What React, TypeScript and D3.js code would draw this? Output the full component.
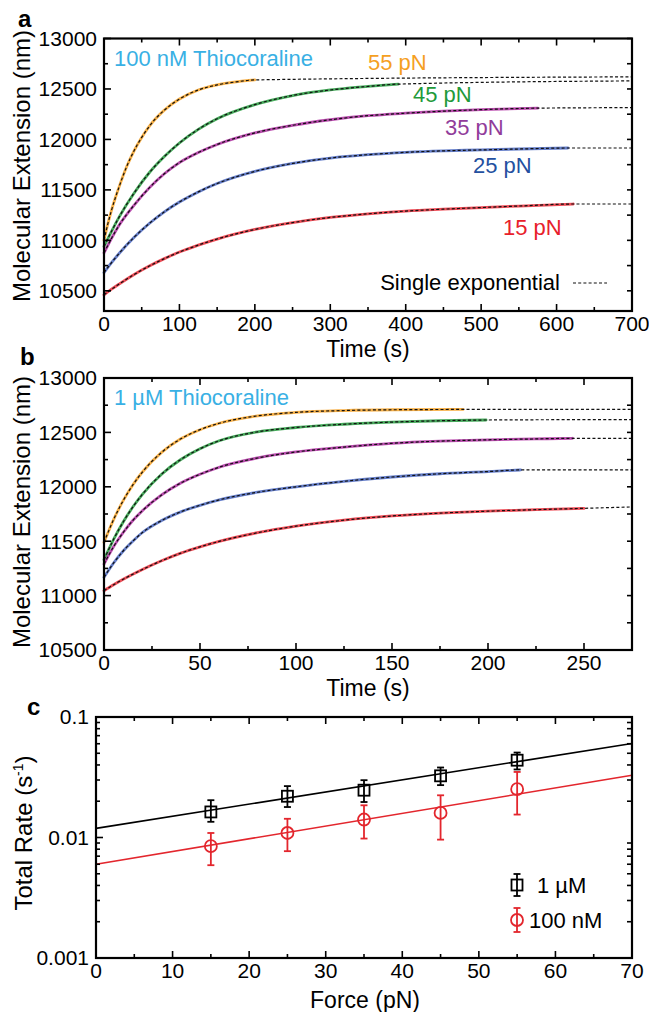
import * as d3 from "d3";

const FONT = "'Liberation Sans', Arial, Helvetica, sans-serif";

// ---- panel a : 100 nM Thiocoraline ----
const forceLabels = ["55 pN", "45 pN", "35 pN", "25 pN", "15 pN"];
const traceColors = ["#f6a733", "#33a24a", "#b43aa6", "#5571c4", "#ec3a45"];
const labelColors = ["#f5a01f", "#1f9a3a", "#913c9a", "#2450a0", "#e8202a"];

const timeA55 = [0, 5, 10, 15, 20, 30, 40, 50, 60, 80, 100, 125, 150, 175, 200];
const extA55 = [11000, 11160, 11300, 11420, 11530, 11730, 11890, 12020, 12130, 12290, 12400, 12490, 12540, 12570, 12590];
const timeA45 = [0, 10, 20, 40, 60, 80, 100, 125, 150, 200, 250, 300, 350, 390];
const extA45 = [10940, 11090, 11230, 11470, 11670, 11830, 11965, 12100, 12205, 12345, 12435, 12490, 12525, 12548];
const timeA35 = [0, 10, 20, 40, 60, 80, 100, 125, 150, 200, 250, 300, 350, 400, 450, 500, 575];
const extA35 = [10875, 11020, 11150, 11350, 11520, 11660, 11770, 11870, 11950, 12065, 12140, 12195, 12235, 12260, 12280, 12295, 12310];
const timeA25 = [0, 10, 20, 40, 60, 80, 100, 125, 150, 200, 250, 300, 350, 400, 450, 500, 550, 615];
const extA25 = [10680, 10779, 10870, 11031, 11167, 11283, 11380, 11480, 11563, 11683, 11762, 11815, 11849, 11872, 11887, 11896, 11905, 11915];
const timeA15 = [0, 10, 20, 40, 60, 80, 100, 125, 150, 200, 250, 300, 350, 400, 450, 500, 550, 622];
const extA15 = [10460, 10516, 10567, 10662, 10745, 10819, 10884, 10953, 11013, 11108, 11176, 11227, 11263, 11290, 11309, 11325, 11340, 11360];
const plateauA = [12620, 12580, 12315, 11915, 11360];

// ---- panel b : 1 µM Thiocoraline ----
const timeB55 = [0, 5, 10, 15, 20, 30, 40, 50, 60, 80, 100, 125, 150, 187];
const extB55 = [11490, 11699, 11873, 12017, 12136, 12316, 12441, 12525, 12584, 12652, 12684, 12701, 12708, 12711];
const timeB45 = [0, 5, 10, 15, 20, 30, 40, 50, 60, 80, 100, 125, 150, 175, 199];
const extB45 = [11330, 11517, 11677, 11814, 11931, 12116, 12251, 12350, 12423, 12505, 12545, 12575, 12595, 12607, 12614];
const timeB35 = [0, 5, 10, 15, 20, 30, 40, 50, 60, 80, 100, 125, 150, 175, 200, 225, 244];
const extB35 = [11290, 11450, 11580, 11690, 11780, 11925, 12035, 12115, 12180, 12265, 12320, 12365, 12400, 12420, 12432, 12440, 12446];
const timeB25 = [0, 5, 10, 15, 20, 30, 40, 50, 60, 80, 100, 125, 150, 175, 200, 217];
const extB25 = [11168, 11300, 11410, 11500, 11580, 11690, 11770, 11830, 11880, 11950, 12000, 12050, 12090, 12120, 12140, 12155];
const timeB15 = [0, 5, 10, 20, 30, 40, 50, 60, 80, 100, 125, 150, 175, 200, 225, 250];
const extB15 = [11045, 11100, 11150, 11240, 11320, 11390, 11448, 11498, 11578, 11638, 11693, 11732, 11758, 11776, 11790, 11802];
const plateauB = [12712, 12618, 12446, 12155, 11815];

// ---- panel c : total rate vs force ----
const forces = [15, 25, 35, 45, 55];
const rate1uM = [0.0163, 0.022, 0.0247, 0.0325, 0.0438];
const hi1uM = [0.0204, 0.0267, 0.0299, 0.0381, 0.0507];
const lo1uM = [0.0135, 0.0179, 0.0197, 0.0272, 0.0367];
const rate100nM = [0.00847, 0.0109, 0.0141, 0.016, 0.0252];
const hi100nM = [0.0109, 0.0143, 0.0185, 0.0224, 0.035];
const lo100nM = [0.00589, 0.0077, 0.0098, 0.0096, 0.0155];
const fitForce = [0, 70];
const fit1uM = [0.0119, 0.0603];
const fit100nM = [0.006, 0.0329];

// label layout (pixels)
const forceLabelPos = [[368, 70], [413, 102], [445, 135], [473, 173], [503, 235]];

const zip = (t: number[], v: number[]) => t.map((d, i) => [d, v[i]] as [number, number]);

function Frame({ x, y, xMajor, xMinor, yMajor, yMinor, yRight, xFmt, yFmt, yLabelX, xLabelDy }: any) {
  const [x0, x1] = x.range();
  const [yb, yt] = y.range();
  const M = 7, m = 4;
  return (
    <g stroke="#000" strokeWidth={1.6}>
      {xMinor.map((v: number) => (
        <g key={"xm" + v}>
          <line x1={x(v)} x2={x(v)} y1={yb} y2={yb - m} />
          <line x1={x(v)} x2={x(v)} y1={yt} y2={yt + m} />
        </g>
      ))}
      {xMajor.map((v: number) => (
        <g key={"xM" + v}>
          <line x1={x(v)} x2={x(v)} y1={yb} y2={yb - M} />
          <line x1={x(v)} x2={x(v)} y1={yt} y2={yt + M} />
          <text x={x(v)} y={yb + xLabelDy} dy="0.35em" textAnchor="middle" stroke="none" fontSize={21}>{xFmt(v)}</text>
        </g>
      ))}
      {yMinor.map((v: number) => (
        <line key={"ym" + v} x1={x0} x2={x0 + m} y1={y(v)} y2={y(v)} />
      ))}
      {yMajor.map((v: number) => (
        <g key={"yM" + v}>
          <line x1={x0} x2={x0 + M} y1={y(v)} y2={y(v)} />
          <text x={yLabelX} y={y(v)} dy="0.35em" textAnchor="end" stroke="none" fontSize={21}>{yFmt(v)}</text>
        </g>
      ))}
      {yRight.map((v: number) => (
        <line key={"yr" + v} x1={x1} x2={x1 - 5} y1={y(v)} y2={y(v)} />
      ))}
      <rect x={x0} y={yt} width={x1 - x0} height={yb - yt} fill="none" strokeWidth={2.2} />
    </g>
  );
}

function ExtensionPanel({ top, bottom, xMax, yMin, series, plateaus, xStep, title, titleY }: any) {
  const x = d3.scaleLinear().domain([0, xMax]).range([104, 632]);
  const y = d3.scaleLinear().domain([yMin, 13000]).range([bottom, top]);
  const line = d3.line<[number, number]>().x(d => x(d[0])).y(d => y(d[1])).curve(d3.curveMonotoneX);
  const xMajor = d3.range(0, xMax + 1, xStep);
  const xMinor = d3.range(xStep / 2, xMax + 1, xStep);
  const yMajor = d3.range(Math.ceil(yMin / 500) * 500, 13001, 500);
  const yMinor = d3.range(Math.ceil(yMin / 250) * 250, 13001, 250).filter(v => v % 500 !== 0);
  const yRight = d3.range(Math.ceil(yMin / 250) * 250, 13001, 250);
  return (
    <g>
      {series.map((s: [number, number][], i: number) => (
        <path key={"d" + i} d={line(s) || ""} fill="none" stroke={traceColors[i]} strokeWidth={2.8} strokeLinecap="round" opacity={0.9} />
      ))}
      {series.map((s: [number, number][], i: number) => (
        <path key={"f" + i} d={line([...s, [xMax, plateaus[i]]]) || ""} fill="none" stroke="#111" strokeWidth={1.2} strokeDasharray="3 2.2" />
      ))}
      <Frame x={x} y={y} xMajor={xMajor} xMinor={xMinor} yMajor={yMajor} yMinor={yMinor} yRight={yRight}
        xFmt={(v: number) => String(v)} yFmt={(v: number) => String(v)} yLabelX={97} xLabelDy={13} />
      <text x={114} y={titleY} fill="#39b0e4" fontSize={22}>{title}</text>
    </g>
  );
}

function RatePanel() {
  const x = d3.scaleLinear().domain([0, 70]).range([96, 632]);
  const y = d3.scaleLog().domain([0.001, 0.1]).range([958, 717]);
  const minors: number[] = [];
  [0.001, 0.01].forEach(d => d3.range(2, 10).forEach(k => minors.push(d * k)));
  const fitLine = d3.line<[number, number]>().x(d => x(d[0])).y(d => y(d[1]));
  const red = "#e3262d";
  const cap = 3.5;
  return (
    <g>
      <path d={fitLine(zip(fitForce, fit1uM)) || ""} stroke="#000" strokeWidth={1.6} fill="none" />
      <path d={fitLine(zip(fitForce, fit100nM)) || ""} stroke={red} strokeWidth={1.6} fill="none" />
      {forces.map((f, i) => (
        <g key={"k" + f} stroke="#000" strokeWidth={1.8} fill="none">
          <line x1={x(f)} x2={x(f)} y1={y(hi1uM[i])} y2={y(lo1uM[i])} />
          <line x1={x(f) - cap} x2={x(f) + cap} y1={y(hi1uM[i])} y2={y(hi1uM[i])} />
          <line x1={x(f) - cap} x2={x(f) + cap} y1={y(lo1uM[i])} y2={y(lo1uM[i])} />
          <rect x={x(f) - 5.5} y={y(rate1uM[i]) - 5.5} width={11} height={11} />
        </g>
      ))}
      {forces.map((f, i) => (
        <g key={"r" + f} stroke={red} strokeWidth={1.8} fill="none">
          <line x1={x(f)} x2={x(f)} y1={y(hi100nM[i])} y2={y(lo100nM[i])} />
          <line x1={x(f) - cap} x2={x(f) + cap} y1={y(hi100nM[i])} y2={y(hi100nM[i])} />
          <line x1={x(f) - cap} x2={x(f) + cap} y1={y(lo100nM[i])} y2={y(lo100nM[i])} />
          <circle cx={x(f)} cy={y(rate100nM[i])} r={6} />
        </g>
      ))}
      <Frame x={x} y={y} xMajor={d3.range(0, 71, 10)} xMinor={d3.range(5, 70, 10)}
        yMajor={[0.001, 0.01, 0.1]} yMinor={minors} yRight={minors}
        xFmt={(v: number) => String(v)} yFmt={(v: number) => String(v)} yLabelX={89} xLabelDy={13} />
      {/* legend */}
      <g stroke="#000" strokeWidth={1.8} fill="none">
        <line x1={517} x2={517} y1={874} y2={896} />
        <line x1={517 - cap} x2={517 + cap} y1={874} y2={874} />
        <line x1={517 - cap} x2={517 + cap} y1={896} y2={896} />
        <rect x={511.5} y={879.5} width={11} height={11} />
      </g>
      <text x={537} y={885} dy="0.35em" fontSize={22}>1 µM</text>
      <g stroke={red} strokeWidth={1.8} fill="none">
        <line x1={517} x2={517} y1={908} y2={932} />
        <line x1={517 - cap} x2={517 + cap} y1={908} y2={908} />
        <line x1={517 - cap} x2={517 + cap} y1={932} y2={932} />
        <circle cx={517} cy={920} r={6} />
      </g>
      <text x={529} y={920} dy="0.35em" fontSize={22}>100 nM</text>
      <text x={365} y={1000} dy="0.35em" textAnchor="middle" fontSize={23}>Force (pN)</text>
      <text transform="translate(24,833) rotate(-90)" textAnchor="middle" dy="0.35em" fontSize={24}>
        Total Rate (s<tspan fontSize={14} dy="-9">-1</tspan><tspan dy="9">)</tspan>
      </text>
    </g>
  );
}

export default function App() {
  const seriesA = [zip(timeA55, extA55), zip(timeA45, extA45), zip(timeA35, extA35), zip(timeA25, extA25), zip(timeA15, extA15)];
  const seriesB = [zip(timeB55, extB55), zip(timeB45, extB45), zip(timeB35, extB35), zip(timeB25, extB25), zip(timeB15, extB15)];
  return (
    <svg width={649} height={1012} style={{ position: "absolute", left: 0, top: 0, background: "#fff" }}
      fontFamily={FONT}>
      <rect width={649} height={1012} fill="#fff" />
      {/* panel a */}
      <text x={18} y={27} fontSize={24} fontWeight="bold">a</text>
      <ExtensionPanel top={38.5} bottom={311} xMax={700} yMin={10300} series={seriesA} plateaus={plateauA}
        xStep={100} title="100 nM Thiocoraline" titleY={65.5} />
      {forceLabels.map((l, i) => (
        <text key={l} x={forceLabelPos[i][0]} y={forceLabelPos[i][1]} fill={labelColors[i]} fontSize={22}>{l}</text>
      ))}
      <text x={560} y={290} textAnchor="end" fontSize={22}>Single exponential</text>
      <line x1={573} x2={607} y1={283} y2={283} stroke="#111" strokeWidth={1.2} strokeDasharray="3 2.2" />
      <text x={368} y={349} dy="0.35em" textAnchor="middle" fontSize={23}>Time (s)</text>
      <text transform="translate(22,166) rotate(-90)" textAnchor="middle" dy="0.35em" fontSize={24}>Molecular Extension (nm)</text>

      {/* panel b */}
      <text x={20} y={365} fontSize={24} fontWeight="bold">b</text>
      <ExtensionPanel top={378} bottom={650} xMax={275} yMin={10500} series={seriesB} plateaus={plateauB}
        xStep={50} title="1 µM Thiocoraline" titleY={405} />
      <text x={368} y={688} dy="0.35em" textAnchor="middle" fontSize={23}>Time (s)</text>
      <text transform="translate(22,512) rotate(-90)" textAnchor="middle" dy="0.35em" fontSize={24}>Molecular Extension (nm)</text>

      {/* panel c */}
      <text x={27} y={715} fontSize={24} fontWeight="bold">c</text>
      <RatePanel />
    </svg>
  );
}
